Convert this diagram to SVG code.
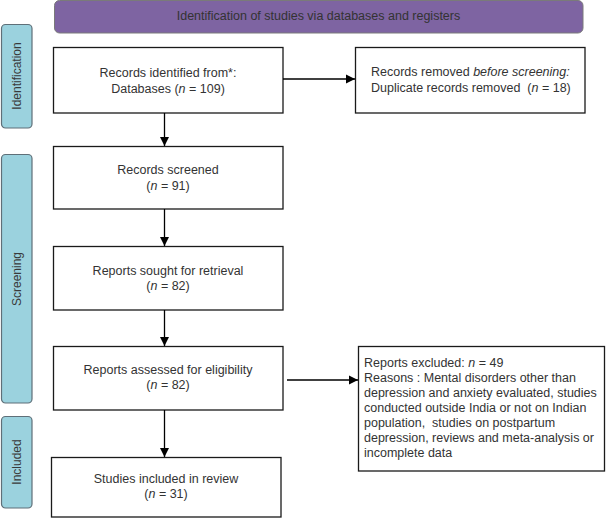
<svg xmlns="http://www.w3.org/2000/svg" width="606" height="518" viewBox="0 0 606 518">
<defs>
<marker id="ah" markerWidth="10" markerHeight="10" refX="9" refY="5" orient="auto" markerUnits="userSpaceOnUse">
<path d="M0,0.5 L9,5 L0,9.5 Z" fill="#000"/>
</marker>
<style>
.box{fill:#fff;stroke:#1a1a1a;stroke-width:1.3}
.side{fill:#9bd2de;stroke:#5f6f78;stroke-width:1.2}
.hdr{fill:#7e64a2;stroke:#7a7a7a;stroke-width:1}
text{font-family:"Liberation Sans",Arial,sans-serif;font-size:12.5px;fill:#333}
.c{text-anchor:middle}
.lbl{font-size:12px;text-anchor:middle;fill:#3a3a3a}
.conn{stroke:#000;stroke-width:1.3;fill:none;marker-end:url(#ah)}
</style>
</defs>
<g id="header">
<rect class="hdr" x="54.5" y="0.5" width="528.5" height="32.5" rx="5"/>
<text class="c" x="318.5" y="20">Identification of studies via databases and registers</text>
</g>
<g id="side-identification">
<rect class="side" x="1.5" y="24.5" width="30.5" height="103.5" rx="4"/>
<text class="lbl" transform="translate(20.5,76) rotate(-90)">Identification</text>
</g>
<g id="side-screening">
<rect class="side" x="1.5" y="154.5" width="30.5" height="248.5" rx="4"/>
<text class="lbl" transform="translate(20.5,279) rotate(-90)">Screening</text>
</g>
<g id="side-included">
<rect class="side" x="1.5" y="416.5" width="30.5" height="91.5" rx="4"/>
<text class="lbl" transform="translate(20.5,462) rotate(-90)">Included</text>
</g>
<g id="records-identified">
<rect class="box" x="53.5" y="47.5" width="229.5" height="65.5"/>
<text class="c" x="168" y="76.5">Records identified from*:</text>
<text class="c" x="168" y="92.5">Databases (<tspan font-style="italic">n</tspan> = 109)</text>
</g>
<g id="records-removed">
<rect class="box" x="355.5" y="47.5" width="229.5" height="65.5"/>
<text x="371" y="75.5">Records removed <tspan font-style="italic">before screening:</tspan></text>
<text x="371" y="91.5" xml:space="preserve">Duplicate records removed  (<tspan font-style="italic">n</tspan> = 18)</text>
</g>
<g id="records-screened">
<rect class="box" x="53.5" y="146.5" width="229.5" height="62.5"/>
<text class="c" x="168" y="174">Records screened</text>
<text class="c" x="168" y="189.5">(<tspan font-style="italic">n</tspan> = 91)</text>
</g>
<g id="reports-sought">
<rect class="box" x="53.5" y="246.5" width="229.5" height="63.5"/>
<text class="c" x="168" y="274.5">Reports sought for retrieval</text>
<text class="c" x="168" y="290">(<tspan font-style="italic">n</tspan> = 82)</text>
</g>
<g id="reports-assessed">
<rect class="box" x="53.5" y="346.5" width="229.5" height="63.5"/>
<text class="c" x="168" y="374">Reports assessed for eligibility</text>
<text class="c" x="168" y="389">(<tspan font-style="italic">n</tspan> = 82)</text>
</g>
<g id="reports-excluded">
<rect class="box" x="358.5" y="346.5" width="246" height="124.5"/>
<text x="364" y="367">Reports excluded: <tspan font-style="italic">n</tspan> = 49</text>
<text x="364" y="382">Reasons : Mental disorders other than</text>
<text x="364" y="397">depression and anxiety evaluated, studies</text>
<text x="364" y="412">conducted outside India or not on Indian</text>
<text x="364" y="427" xml:space="preserve">population,  studies on postpartum</text>
<text x="364" y="442">depression, reviews and meta-analysis or</text>
<text x="364" y="457">incomplete data</text>
</g>
<g id="studies-included">
<rect class="box" x="51.5" y="457.5" width="229.5" height="59.5"/>
<text class="c" x="166" y="483">Studies included in review</text>
<text class="c" x="166" y="498">(<tspan font-style="italic">n</tspan> = 31)</text>
</g>
<g id="connectors">
<line class="conn" x1="164.5" y1="113" x2="164.5" y2="146"/>
<line class="conn" x1="164.5" y1="209" x2="164.5" y2="246"/>
<line class="conn" x1="164.5" y1="310" x2="164.5" y2="346"/>
<line class="conn" x1="164.5" y1="410" x2="164.5" y2="457"/>
<line class="conn" x1="283" y1="79" x2="355" y2="79"/>
<line class="conn" x1="287" y1="380" x2="358" y2="380"/>
</g>
</svg>
